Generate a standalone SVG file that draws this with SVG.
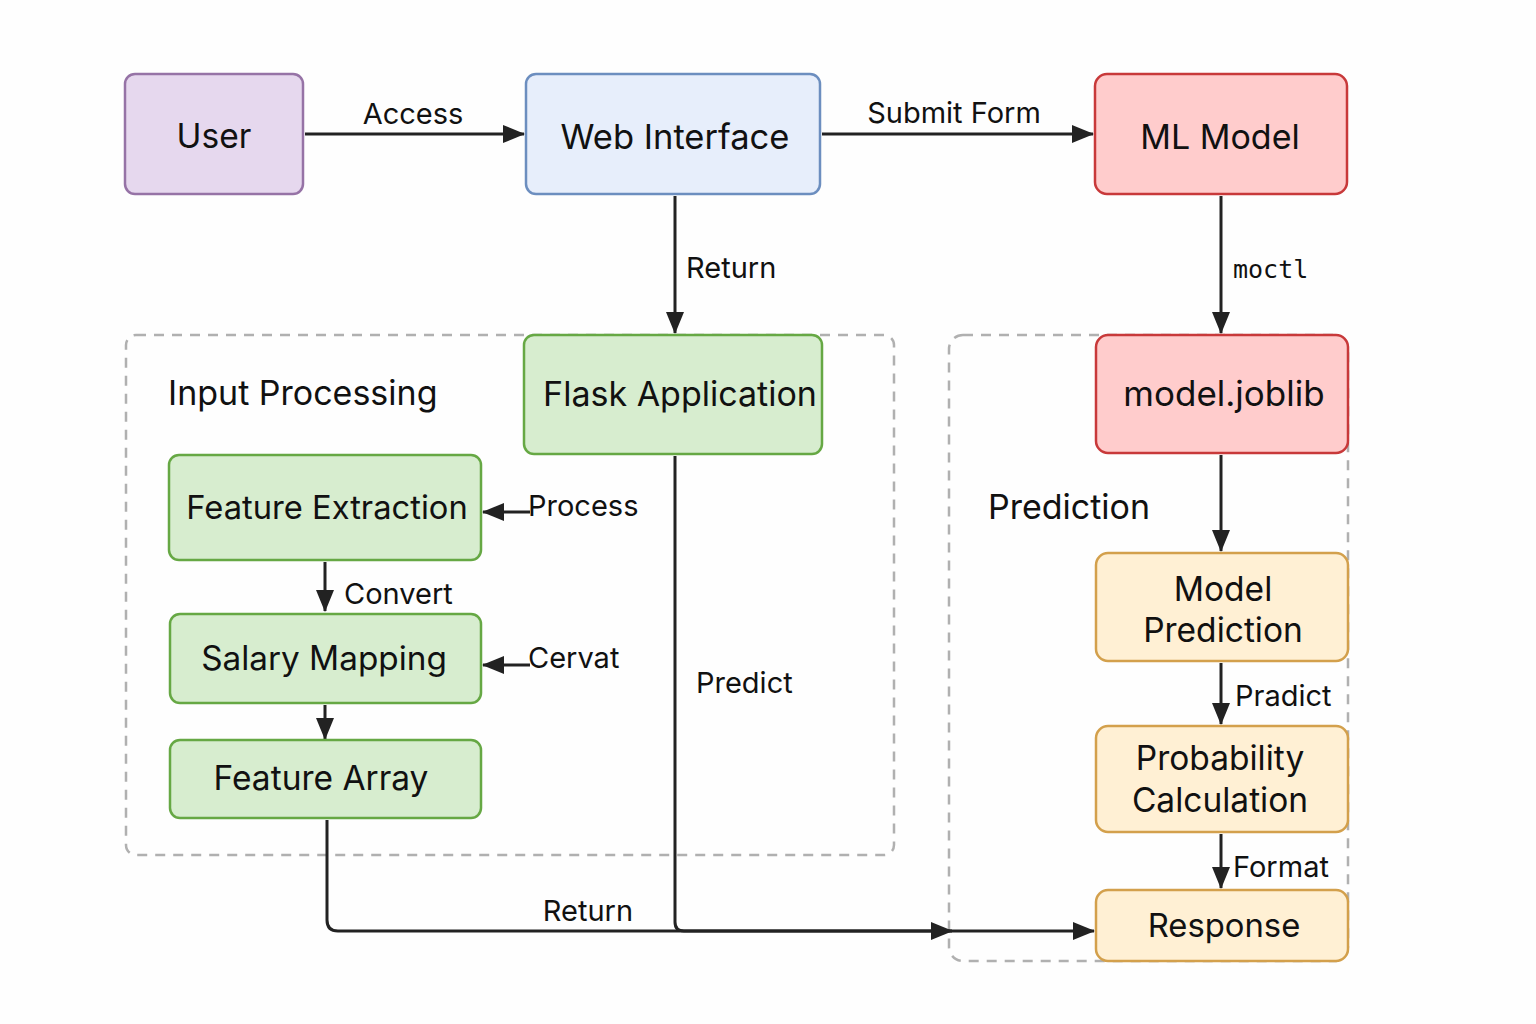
<svg xmlns="http://www.w3.org/2000/svg" width="1536" height="1024" viewBox="0 0 1536 1024">
<defs>
<marker id="ah" markerWidth="22" markerHeight="18" refX="21" refY="9" orient="auto" markerUnits="userSpaceOnUse">
<path d="M0,0 L22,9 L0,18 Z" fill="#222"/>
</marker>
<style>
.n{font-family:Inter,"Noto Sans","Liberation Sans",sans-serif;font-size:33.5px;fill:#111;text-anchor:middle;dominant-baseline:central}
.l{font-family:Inter,"Noto Sans","Liberation Sans",sans-serif;font-size:29px;fill:#111}
.g{font-family:Inter,"Noto Sans","Liberation Sans",sans-serif;font-size:34px;fill:#111}
.c{fill:none;stroke:#222;stroke-width:3}
.grp{fill:none;stroke:#b0b0b0;stroke-width:2.5;stroke-dasharray:10 8}
.purple{fill:#e6d8ee;stroke:#9673a6;stroke-width:2.5}
.blue{fill:#e7eefb;stroke:#6c8ebf;stroke-width:2.5}
.red{fill:#ffcccc;stroke:#c8393a;stroke-width:2.5}
.green{fill:#d7edcf;stroke:#66a844;stroke-width:2.5}
.orange{fill:#fff0d4;stroke:#d3a04c;stroke-width:2.5}
</style>
</defs>
<rect width="1536" height="1024" fill="#fefefe"/>
<g id="group-input">
<rect class="grp" x="126" y="335" width="768" height="520" rx="10"/>
<text class="g" x="168" y="405">Input Processing</text>
</g>
<g id="group-prediction">
<rect class="grp" x="949" y="335" width="399" height="626" rx="14"/>
<text class="g" x="988" y="519">Prediction</text>
</g>
<g id="connectors">
<line class="c" x1="305" y1="134" x2="524" y2="134" marker-end="url(#ah)"/>
<text class="l" x="413" y="124" text-anchor="middle">Access</text>
<line class="c" x1="822" y1="134" x2="1093" y2="134" marker-end="url(#ah)"/>
<text class="l" x="954" y="123" text-anchor="middle">Submit Form</text>
<line class="c" x1="675" y1="196" x2="675" y2="333" marker-end="url(#ah)"/>
<text class="l" x="686" y="278">Return</text>
<line class="c" x1="1221" y1="196" x2="1221" y2="333" marker-end="url(#ah)"/>
<text class="l" x="1233" y="278" style="font-family:'DejaVu Sans Mono','Liberation Mono',monospace;font-size:25px">moctl</text>
<line class="c" x1="1221" y1="455" x2="1221" y2="551" marker-end="url(#ah)"/>
<line class="c" x1="1221" y1="663" x2="1221" y2="724" marker-end="url(#ah)"/>
<text class="l" x="1235" y="706">Pradict</text>
<line class="c" x1="1221" y1="834" x2="1221" y2="888" marker-end="url(#ah)"/>
<text class="l" x="1233" y="877">Format</text>
<line class="c" x1="530" y1="512" x2="483" y2="512" marker-end="url(#ah)"/>
<text class="l" x="528" y="516">Process</text>
<line class="c" x1="530" y1="665" x2="483" y2="665" marker-end="url(#ah)"/>
<text class="l" x="528" y="668">Cervat</text>
<line class="c" x1="325" y1="562" x2="325" y2="611" marker-end="url(#ah)"/>
<text class="l" x="344" y="604">Convert</text>
<line class="c" x1="325" y1="705" x2="325" y2="739" marker-end="url(#ah)"/>
<path class="c" d="M327,820 L327,920 Q327,931 338,931 L952,931" marker-end="url(#ah)"/>
<path class="c" d="M675,456 L675,922 Q675,931 684,931 L1094,931" marker-end="url(#ah)"/>
<text class="l" x="588" y="921" text-anchor="middle">Return</text>
<text class="l" x="696" y="693">Predict</text>
</g>
<g id="node-user"><rect class="purple" x="125" y="74" width="178" height="120" rx="10"/><text class="n" x="214" y="136">User</text></g>
<g id="node-web"><rect class="blue" x="526" y="74" width="294" height="120" rx="10"/><text class="n" x="675" y="136" style="font-size:34.5px">Web Interface</text></g>
<g id="node-ml"><rect class="red" x="1095" y="74" width="252" height="120" rx="12"/><text class="n" x="1220" y="136" style="font-size:34px">ML Model</text></g>
<g id="node-flask"><rect class="green" x="524" y="335" width="298" height="119" rx="10"/><text class="n" x="680" y="393" style="font-size:34px">Flask Application</text></g>
<g id="node-joblib"><rect class="red" x="1096" y="335" width="252" height="118" rx="12"/><text class="n" x="1224" y="393" style="font-size:35px">model.joblib</text></g>
<g id="node-fe"><rect class="green" x="169" y="455" width="312" height="105" rx="10"/><text class="n" x="327" y="507" style="font-size:32.7px">Feature Extraction</text></g>
<g id="node-sm"><rect class="green" x="170" y="614" width="311" height="89" rx="10"/><text class="n" x="324" y="658" style="font-size:33.3px">Salary Mapping</text></g>
<g id="node-fa"><rect class="green" x="170" y="740" width="311" height="78" rx="10"/><text class="n" x="321" y="778">Feature Array</text></g>
<g id="node-mp"><rect class="orange" x="1096" y="553" width="252" height="108" rx="12"/><text class="n" x="1223" y="589">Model</text><text class="n" x="1223" y="630">Prediction</text></g>
<g id="node-pc"><rect class="orange" x="1096" y="726" width="252" height="106" rx="12"/><text class="n" x="1220" y="758">Probability</text><text class="n" x="1220" y="800">Calculation</text></g>
<g id="node-resp"><rect class="orange" x="1096" y="890" width="252" height="71" rx="12"/><text class="n" x="1224" y="925" style="font-size:32.8px">Response</text></g>
</svg>
